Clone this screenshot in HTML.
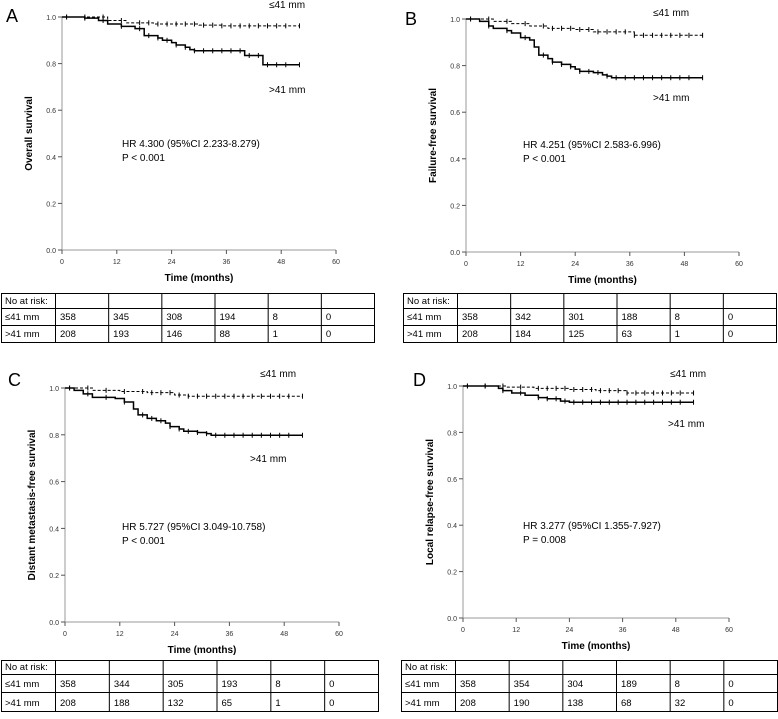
<!DOCTYPE html>
<html><head><meta charset="utf-8"><style>
body{margin:0;background:#fff;width:778px;height:714px;overflow:hidden;font-family:"Liberation Sans",sans-serif}
svg text{font-family:"Liberation Sans","DejaVu Sans",sans-serif}
</style></head><body>
<svg id="fig" width="778" height="714"></svg>
<script>
// ---- data ----
const panelLetters = ["A","B","C","D"];
const yTitles = ["Overall survival","Failure-free survival","Distant metastasis-free survival","Local relapse-free survival"];
const hrTexts = ["HR 4.300 (95%CI 2.233-8.279)","HR 4.251 (95%CI 2.583-6.996)","HR 5.727 (95%CI 3.049-10.758)","HR 3.277 (95%CI 1.355-7.927)"];
const pTexts = ["P < 0.001","P < 0.001","P < 0.001","P = 0.008"];
const xTicks = [0,12,24,36,48,60];
const yTicks = [0,0.2,0.4,0.6,0.8,1.0];
const yTickLabels = ["0.0","0.2","0.4","0.6","0.8","1.0"];
// step curves: [time, survival]
const smallA = [[0,1],[10,0.985],[14,0.975],[20,0.97],[30,0.965],[35,0.962],[52,0.962]];
const largeA = [[0,1],[5,0.995],[8,0.985],[10,0.97],[13,0.96],[16,0.95],[18,0.92],[21,0.91],[22,0.9],[24,0.89],[25,0.88],[27,0.87],[28,0.86],[29,0.855],[40,0.835],[44,0.795],[52,0.795]];
const smallB = [[0,1],[6,0.99],[10,0.98],[14,0.97],[18,0.96],[24,0.955],[28,0.945],[37,0.93],[52,0.93]];
const largeB = [[0,1],[3,0.99],[5,0.97],[6,0.96],[9,0.95],[10,0.94],[12,0.92],[14,0.91],[15,0.88],[16,0.845],[18,0.83],[19,0.815],[21,0.805],[23,0.795],[24,0.785],[25,0.775],[28,0.77],[30,0.76],[31,0.755],[32,0.748],[52,0.748]];
const smallC = [[0,1],[6,0.99],[12,0.985],[18,0.98],[24,0.97],[27,0.965],[52,0.965]];
const largeC = [[0,1],[2,0.99],[4,0.975],[6,0.96],[11,0.955],[13,0.94],[15,0.91],[16,0.885],[18,0.87],[20,0.86],[22,0.85],[23,0.835],[25,0.825],[26,0.815],[29,0.81],[31,0.805],[32,0.798],[52,0.798]];
const smallD = [[0,1],[10,0.995],[16,0.99],[24,0.985],[30,0.98],[37,0.97],[52,0.97]];
const largeD = [[0,1],[8,0.99],[9,0.98],[11,0.97],[14,0.96],[17,0.95],[19,0.945],[22,0.935],[24,0.93],[52,0.93]];
const censorTimes = [1,5,9,13,17,19,21,23,25,27,29,31,33,35,37,39,41,43,45,47,49,52];
const riskSmall = [[358,345,308,194,8,0],[358,342,301,188,8,0],[358,344,305,193,8,0],[358,354,304,189,8,0]];
const riskLarge = [[208,193,146,88,1,0],[208,184,125,63,1,0],[208,188,132,65,1,0],[208,190,138,68,32,0]];
const smallCurves=[smallA,smallB,smallC,smallD], largeCurves=[largeA,largeB,largeC,largeD];

// ---- layout ----
const L = [
 {lx:6,ly:22,x0:62,x1:336,y0:250,y1:17,tx:1,ty:293,tw:373,rh:[15,17,17],small:[269,8],large:[269,93],hr:[122,147]},
 {lx:405,ly:25,x0:466,x1:739,y0:252,y1:19,tx:403,ty:293,tw:373,rh:[15,17,17],small:[653,16],large:[653,101],hr:[523,148]},
 {lx:8,ly:386,x0:65,x1:339,y0:622,y1:388,tx:1,ty:660,tw:377,rh:[14,18,19],small:[260,377],large:[250,462],hr:[122,530]},
 {lx:413,ly:386,x0:463,x1:729,y0:618,y1:386,tx:401,ty:660,tw:376,rh:[14,18,19],small:[670,377],large:[668,427],hr:[523,529]}
];
const NS="http://www.w3.org/2000/svg", svg=document.getElementById("fig");
function el(t,a,p){const e=document.createElementNS(NS,t);for(const k in a)e.setAttribute(k,a[k]);(p||svg).appendChild(e);return e;}
function txt(s,a,p){const e=el("text",a,p);e.textContent=s;return e;}

L.forEach((g,i)=>{
 const grp=el("g",{});
 
 
 const sx=t=>g.x0+(g.x1-g.x0)*t/60, sy=v=>g.y0+(g.y1-g.y0)*v;
 const lt=txt(panelLetters[i],{x:g.lx,y:g.ly,"font-size":18},grp);
 
 
 const ya=el("line",{x1:g.x0,y1:g.y0,x2:g.x0,y2:g.y1,stroke:"#999","stroke-width":1},grp);
 
 
 const xa=el("line",{x1:g.x0,y1:g.y0,x2:g.x1,y2:g.y0,stroke:"#999","stroke-width":1},grp);
 
 
 yTicks.forEach((v,k)=>{
  el("line",{x1:g.x0-4,y1:sy(v),x2:g.x0,y2:sy(v),stroke:"#555"},grp);
  const t=txt(yTickLabels[k],{x:g.x0-6,y:sy(v)+3,"font-size":7,"text-anchor":"end",fill:"#333"},grp);
  
  
 });
 xTicks.forEach(v=>{
  el("line",{x1:sx(v),y1:g.y0,x2:sx(v),y2:g.y0+4,stroke:"#555"},grp);
  const t=txt(String(v),{x:sx(v),y:g.y0+14,"font-size":7,"text-anchor":"middle",fill:"#333"},grp);
  
  
 });
 const xt=txt("Time (months)",{x:(g.x0+g.x1)/2,y:g.y0+31,"font-size":10,"font-weight":"bold","text-anchor":"middle"},grp);
 
 
 const cy=(g.y0+g.y1)/2, cx=g.x0-30;
 const yt=txt(yTitles[i],{x:cx,y:cy,"font-size":10,"font-weight":"bold","text-anchor":"middle",transform:`rotate(-90 ${cx} ${cy})`},grp);
 
 
 [[smallCurves[i],"3,2","curve-small-tumor"],[largeCurves[i],null,"curve-large-tumor"]].forEach(([c,dash,nm])=>{
  let d="M"+sx(c[0][0])+","+sy(c[0][1]);
  for(let k=1;k<c.length;k++){d+=" H"+sx(c[k][0])+" V"+sy(c[k][1]);}
  const a={d:d,fill:"none",stroke:"#000","stroke-width":dash?1:1.5};
  if(dash)a["stroke-dasharray"]=dash;
  const p=el("path",a,grp);
  
  
  const val=t=>{let v=c[0][1];for(const q of c){if(q[0]<=t)v=q[1];}return v;};
  censorTimes.forEach(t=>{
   if(t<=c[c.length-1][0]) el("line",{x1:sx(t),y1:sy(val(t))-2.5,x2:sx(t),y2:sy(val(t))+2.5,stroke:"#000","stroke-width":1},grp);
  });
 });
 const s1=txt("≤41 mm",{x:g.small[0],y:g.small[1],"font-size":10},grp);
 
 
 const s2=txt(">41 mm",{x:g.large[0],y:g.large[1],"font-size":10},grp);
 
 
 const h=txt(hrTexts[i],{x:g.hr[0],y:g.hr[1],"font-size":10},grp);
 
 
 const pv=txt(pTexts[i],{x:g.hr[0],y:g.hr[1]+14,"font-size":10},grp);
 
 
 const tg=el("g",{},grp);
 
 
 const rh=g.rh, W=g.tw, c0=54, cw=(W-c0)/6;
 const H=rh[0]+rh[1]+rh[2];
 el("rect",{x:g.tx+0.5,y:g.ty+0.5,width:W,height:H,fill:"none",stroke:"#000"},tg);
 el("line",{x1:g.tx,y1:g.ty+rh[0]+0.5,x2:g.tx+W,y2:g.ty+rh[0]+0.5,stroke:"#000"},tg);
 el("line",{x1:g.tx,y1:g.ty+rh[0]+rh[1]+0.5,x2:g.tx+W,y2:g.ty+rh[0]+rh[1]+0.5,stroke:"#000"},tg);
 for(let k=0;k<6;k++){const x=g.tx+c0+cw*k+0.5;el("line",{x1:x,y1:g.ty,x2:x,y2:g.ty+H,stroke:"#000"},tg);}
 txt("No at risk:",{x:g.tx+4,y:g.ty+rh[0]-4,"font-size":9.5},tg);
 txt("≤41 mm",{x:g.tx+4,y:g.ty+rh[0]+rh[1]-5,"font-size":9.5},tg);
 txt(">41 mm",{x:g.tx+4,y:g.ty+H-5,"font-size":9.5},tg);
 riskSmall[i].forEach((v,k)=>{const t=txt(String(v),{x:g.tx+c0+cw*k+5,y:g.ty+rh[0]+rh[1]-5,"font-size":9.5},tg);
  
  });
 riskLarge[i].forEach((v,k)=>{const t=txt(String(v),{x:g.tx+c0+cw*k+5,y:g.ty+H-5,"font-size":9.5},tg);
  
  });
});
</script>
</body></html>
